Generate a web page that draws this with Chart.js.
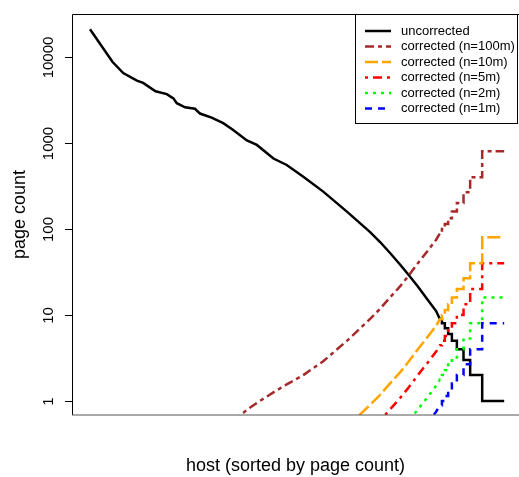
<!DOCTYPE html>
<html>
<head>
<meta charset="utf-8">
<script src="https://cdn.jsdelivr.net/npm/chart.js@4.4.1/dist/chart.umd.min.js"></script>
<style>
  body { margin: 0; background: #fff; }
  #wrap { width: 519px; height: 477px; }
</style>
</head>
<body>
<div id="wrap"><canvas id="hostChart" width="519" height="477"></canvas></div>
<script>
// host rank (percent of hosts, sorted by page count)
const hostRank = [0, 5.4, 8.0, 11.3, 12.8, 15.8, 18.5, 20.1, 20.9, 22.9, 25.3, 26.5, 29.3, 32.1, 34.5, 37.8,
    40.2, 44.2, 47.4, 51.4, 56.2, 61.9, 67.5, 69.9, 72.3, 74.7, 76.6, 79.0, 81.4, 83.4, 84.3,
    84.8, 84.8, 85.5, 85.5, 86.3, 86.3, 87.2, 87.2, 88.4, 88.4, 90.0, 90.0, 91.6, 91.6, 94.5, 94.5, 99.8];

const uncorrected = [21000, 8800, 6500, 5300, 5000, 4000, 3700, 3300, 2900, 2600, 2500, 2200, 1970, 1700, 1420, 1070,
    950, 660, 555, 406, 272, 159, 92, 70.6, 52.6, 38.7, 30, 21.4, 14.9, 11.1, 9,
    9, 8, 8, 7, 7, 6, 6, 5, 5, 4, 4, 3, 3, 2, 2, 1, 1];

// corrected curves (null = below the visible range)
const corrected100m = [null, null, null, null, null, null, null, null, null, null, null, null, null, null,
    0.58, 0.79, 0.95, 1.26, 1.56, 2.0, 2.9, 5.0, 9.0, 11.8, 16, 21.5, 28, 40, 56, 75, 89,
    89, 100, 100, 114, 114, 133, 133, 160, 160, 200, 200, 267, 267, 400, 400, 800, 800];
const corrected10m = [null, null, null, null, null, null, null, null, null, null, null, null, null, null,
    null, null, null, null, null, null, null,
    0.5, 0.9, 1.18, 1.6, 2.15, 2.8, 4.0, 5.6, 7.5, 8.9,
    8.9, 10, 10, 11.4, 11.4, 13.3, 13.3, 16, 16, 20, 20, 26.7, 26.7, 40, 40, 80, 80];
const corrected5m = [null, null, null, null, null, null, null, null, null, null, null, null, null, null,
    null, null, null, null, null, null, null, null,
    0.45, 0.59, 0.8, 1.08, 1.4, 2.0, 2.8, 3.75, 4.45,
    4.45, 5, 5, 5.7, 5.7, 6.65, 6.65, 8, 8, 10, 10, 13.3, 13.3, 20, 20, 40, 40];
const corrected2m = [null, null, null, null, null, null, null, null, null, null, null, null, null, null,
    null, null, null, null, null, null, null, null, null, null, null,
    0.43, 0.56, 0.8, 1.12, 1.5, 1.78,
    1.78, 2, 2, 2.28, 2.28, 2.66, 2.66, 3.2, 3.2, 4, 4, 5.33, 5.33, 8, 8, 16, 16];
const corrected1m = [null, null, null, null, null, null, null, null, null, null, null, null, null, null,
    null, null, null, null, null, null, null, null, null, null, null, null, null,
    0.4, 0.56, 0.75, 0.89,
    0.89, 1, 1, 1.14, 1.14, 1.33, 1.33, 1.6, 1.6, 2, 2, 2.67, 2.67, 4, 4, 8, 8];

const seriesLabels = ['uncorrected', 'corrected (n=100m)', 'corrected (n=10m)',
    'corrected (n=5m)', 'corrected (n=2m)', 'corrected (n=1m)'];
const yTicks = [1, 10, 100, 1000, 10000];

const FONT = '"Liberation Sans", Arial, Helvetica, sans-serif';

function toPoints(values) {
    return hostRank.map((x, i) => ({ x: x, y: values[i] }));
}

const styles = [
    { color: '#000000', dash: [] },
    { color: '#A52A2A', dash: [9, 4, 4, 4] },
    { color: '#FFA500', dash: [13, 4] },
    { color: '#FF0000', dash: [3, 5, 9, 5] },
    { color: '#00FF00', dash: [3, 5] },
    { color: '#0000FF', dash: [7, 6] }
];
const seriesValues = [uncorrected, corrected100m, corrected10m, corrected5m, corrected2m, corrected1m];

const datasets = seriesValues.map((vals, i) => ({
    label: seriesLabels[i],
    data: toPoints(vals),
    borderColor: styles[i].color,
    borderDash: styles[i].dash,
    borderWidth: 2.5,
    pointRadius: 0,
    tension: 0,
    fill: false,
    clip: 0,
    order: i === 0 ? 10 : i
}));

// frame, axis ticks, titles and legend drawn R-style
const frameAndText = {
    id: 'frameAndText',
    afterDraw(chart) {
        const ctx = chart.ctx;
        const area = chart.chartArea;
        const yScale = chart.scales.y;
        ctx.save();

        // box
        ctx.strokeStyle = '#000';
        ctx.lineWidth = 1;
        ctx.beginPath();
        ctx.moveTo(area.left + 0.5, area.bottom);
        ctx.lineTo(area.left + 0.5, area.top + 0.5);
        ctx.lineTo(area.right, area.top + 0.5);
        ctx.stroke();
        ctx.strokeStyle = '#555';
        ctx.beginPath();
        ctx.moveTo(area.left, area.bottom);
        ctx.lineTo(area.right, area.bottom);
        ctx.stroke();

        // y ticks + rotated labels
        ctx.strokeStyle = '#000';
        ctx.fillStyle = '#000';
        ctx.font = '15px ' + FONT;
        ctx.textAlign = 'center';
        ctx.textBaseline = 'middle';
        yTicks.forEach(v => {
            const py = Math.round(yScale.getPixelForValue(v)) + 0.5;
            ctx.beginPath();
            ctx.moveTo(area.left - 7, py);
            ctx.lineTo(area.left, py);
            ctx.stroke();
            ctx.save();
            ctx.translate(49, py);
            ctx.rotate(-Math.PI / 2);
            ctx.fillText(String(v), 0, 0);
            ctx.restore();
        });

        // axis titles
        ctx.font = '18px ' + FONT;
        ctx.save();
        ctx.translate(20, (area.top + area.bottom) / 2);
        ctx.rotate(-Math.PI / 2);
        ctx.fillText('page count', 0, 0);
        ctx.restore();
        ctx.fillText('host (sorted by page count)', (area.left + area.right) / 2, 466);

        // legend
        const lx = 355, ly = 14, lw = 162, lh = 109;
        ctx.fillStyle = '#fff';
        ctx.fillRect(lx, ly, lw, lh);
        ctx.strokeStyle = '#000';
        ctx.strokeRect(lx + 0.5, ly + 0.5, lw, lh);
        ctx.font = '13px ' + FONT;
        ctx.textAlign = 'left';
        chart.data.datasets.forEach((ds, i) => {
            const ry = 31 + i * 15.5;
            ctx.strokeStyle = ds.borderColor;
            ctx.lineWidth = 2.5;
            ctx.setLineDash(ds.borderDash);
            ctx.beginPath();
            ctx.moveTo(365, ry);
            ctx.lineTo(391, ry);
            ctx.stroke();
            ctx.setLineDash([]);
            ctx.fillStyle = '#000';
            ctx.fillText(ds.label, 401, ry);
        });
        ctx.restore();
    }
};

const ctx = document.getElementById('hostChart').getContext('2d');
const hostChart = new Chart(ctx, {
    type: 'line',
    data: { datasets: datasets },
    options: {
        responsive: false,
        animation: false,
        layout: { padding: { left: 72, top: 14, right: 0, bottom: 62 } },
        plugins: {
            legend: { display: false },
            tooltip: { enabled: false }
        },
        scales: {
            x: {
                type: 'linear',
                display: false,
                min: -4.34,
                max: 103.37
            },
            y: {
                type: 'logarithmic',
                display: false,
                min: 0.687,
                max: 31623
            }
        }
    },
    plugins: [frameAndText]
});
</script>
</body>
</html>
